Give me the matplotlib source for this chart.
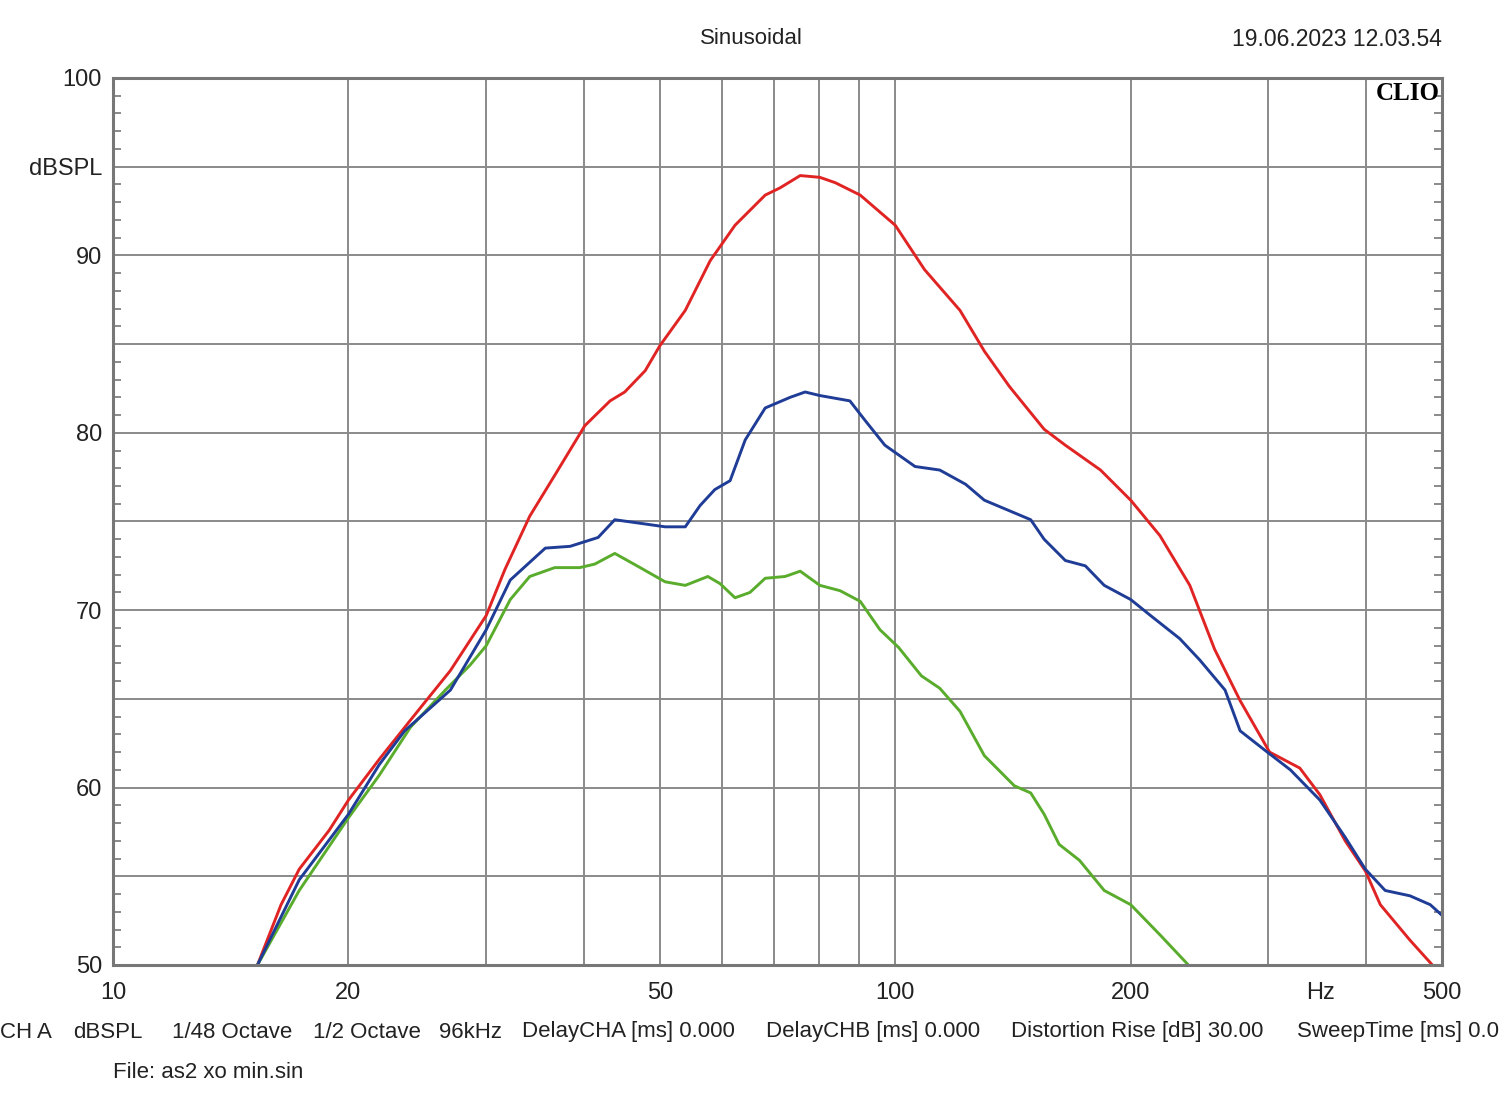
import matplotlib
matplotlib.use("Agg")
from matplotlib import pyplot as plt
from matplotlib.ticker import FixedLocator, MultipleLocator
import matplotlib.transforms as mtransforms

# Данные кривых (частота, Гц / уровень, dBSPL)
red_f = [15.3, 16.4, 17.3, 18.9, 20.0, 21.9, 24.0, 27.0, 30.0, 31.7, 34.1, 36.7, 40.1, 43.2, 45.1,
         47.9, 50.0, 53.9, 58.0, 62.4, 68.2, 71.2, 75.6, 80.1, 83.8, 90.2, 100, 109, 121, 130,
         140, 155, 165, 183, 200, 218, 238, 256, 276, 301, 329, 349, 376, 399, 417, 455, 486]
red_db = [50.0, 53.4, 55.4, 57.6, 59.3, 61.6, 63.8, 66.6, 69.7, 72.3, 75.3, 77.6, 80.4, 81.8, 82.3,
          83.5, 84.9, 86.9, 89.7, 91.7, 93.4, 93.8, 94.5, 94.4, 94.1, 93.4, 91.7, 89.2, 86.9, 84.6,
          82.6, 80.2, 79.3, 77.9, 76.2, 74.2, 71.4, 67.8, 64.9, 62.0, 61.1, 59.6, 57.0, 55.3, 53.4, 51.4, 50.0]

blue_f = [15.3, 17.3, 20.0, 21.9, 23.6, 27.0, 30.0, 32.2, 35.7, 38.4, 41.7, 43.8, 47.2, 50.8, 53.9,
          56.3, 58.8, 61.5, 64.3, 68.2, 73.4, 76.7, 80.1, 87.5, 91.5, 97.0, 106, 114, 123, 130,
          149, 155, 165, 175, 185, 200, 212, 231, 245, 264, 276, 297, 320, 349, 376, 399, 423, 455, 483, 500]
blue_db = [50.0, 54.8, 58.5, 61.3, 63.2, 65.5, 68.9, 71.7, 73.5, 73.6, 74.1, 75.1, 74.9, 74.7, 74.7,
           75.9, 76.8, 77.3, 79.6, 81.4, 82.0, 82.3, 82.1, 81.8, 80.7, 79.3, 78.1, 77.9, 77.1, 76.2,
           75.1, 74.0, 72.8, 72.5, 71.4, 70.6, 69.7, 68.4, 67.2, 65.5, 63.2, 62.1, 61.0, 59.3, 57.2, 55.4, 54.2, 53.9, 53.4, 52.8]

green_f = [15.3, 17.3, 20.0, 21.9, 24.0, 26.6, 28.6, 30.0, 32.2, 34.1, 36.7, 39.5, 41.3, 43.8, 47.2,
           50.8, 53.9, 57.6, 59.7, 62.4, 65.2, 68.2, 72.3, 75.6, 80.1, 85.0, 90.2, 95.6, 101, 108,
           114, 121, 130, 142, 149, 155, 162, 172, 185, 200, 218, 237]
green_db = [50.0, 54.2, 58.3, 60.7, 63.4, 65.5, 66.9, 68.0, 70.6, 71.9, 72.4, 72.4, 72.6, 73.2, 72.4,
            71.6, 71.4, 71.9, 71.5, 70.7, 71.0, 71.8, 71.9, 72.2, 71.4, 71.1, 70.5, 68.9, 67.9, 66.3,
            65.6, 64.3, 61.8, 60.1, 59.7, 58.5, 56.8, 55.9, 54.2, 53.4, 51.7, 50.0]

grid_f = [10, 20, 30, 40, 50, 60, 70, 80, 90, 100, 200, 300, 400, 500]
x_labels = {10: "10", 20: "20", 50: "50", 100: "100", 200: "200", 500: "500"}
y_ticks = [50, 55, 60, 65, 70, 75, 80, 85, 90, 95, 100]
y_labels = {50: "50", 60: "60", 70: "70", 80: "80", 90: "90", 95: "dBSPL", 100: "100"}

info = [(0, "CH A"), (73, "dBSPL"), (172, "1/48 Octave"), (313, "1/2 Octave"), (439, "96kHz"),
        (522, "DelayCHA [ms] 0.000"), (766, "DelayCHB [ms] 0.000"),
        (1011, "Distortion Rise [dB] 30.00"), (1297, "SweepTime [ms] 0.0")]

plt.rcParams["font.family"] = ["Liberation Sans", "DejaVu Sans"]

W, H = 1500, 1110
fig = plt.figure(figsize=(W / 100, H / 100), dpi=100)
ax = fig.add_axes([113 / W, 1 - 965 / H, (1442 - 113) / W, (965 - 78) / H])

ax.plot(red_f, red_db, color="#e02424", lw=2.1)
ax.plot(green_f, green_db, color="#5aac2c", lw=2.1)
ax.plot(blue_f, blue_db, color="#1f3c96", lw=2.1)

ax.set_xscale("log")
ax.set_xlim(10, 500)
ax.set_ylim(50, 100)

ax.xaxis.set_major_locator(FixedLocator(grid_f))
ax.xaxis.set_minor_locator(FixedLocator([]))
ax.set_xticklabels([x_labels.get(f, "") for f in grid_f])
ax.yaxis.set_major_locator(FixedLocator(y_ticks))
ax.set_yticklabels([y_labels.get(v, "") for v in y_ticks])
ax.yaxis.set_minor_locator(MultipleLocator(1))

ax.grid(True, which="major", color="#8a8a8a", lw=1.4)
ax.tick_params(which="major", length=0, labelsize=17, colors="#222222")
ax.tick_params(axis="x", which="major", pad=12)
ax.tick_params(axis="y", which="major", pad=8)
ax.tick_params(axis="y", which="minor", direction="in", length=6, width=1.2,
               color="#777777", left=True, right=True)
for sp in ax.spines.values():
    sp.set_color("#777777")
    sp.set_linewidth(2.2)

# подпись Hz на оси частот, на одной линии с подписями тиков
trans = mtransforms.blended_transform_factory(ax.transData, ax.transAxes)
ax.annotate("Hz", xy=(350, 0), xycoords=trans, xytext=(0, -12), textcoords="offset points",
            ha="center", va="top", fontsize=17, color="#222222")

ax.text(0.998, 0.995, "CLIO", transform=ax.transAxes, ha="right", va="top",
        fontsize=18, fontweight="bold", family=["Liberation Serif", "DejaVu Serif"])

fig.text(751 / W, 1 - 39 / H, "Sinusoidal", ha="center", va="center", fontsize=16, color="#222222")
fig.text(1442 / W, 1 - 39 / H, "19.06.2023 12.03.54", ha="right", va="center", fontsize=16.5, color="#222222")

for x, s in info:
    fig.text(x / W, 1 - 1032 / H, s, ha="left", va="center", fontsize=16, color="#222222")
fig.text(113 / W, 1 - 1072 / H, "File: as2 xo min.sin", ha="left", va="center", fontsize=16, color="#222222")

fig.savefig("out.png", dpi=100)
